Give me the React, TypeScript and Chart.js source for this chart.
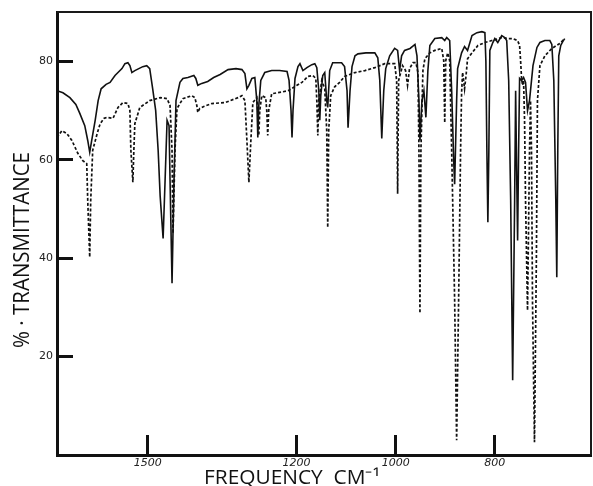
import React, { useEffect, useRef } from "react";
import { Chart, registerables } from "chart.js";

Chart.register(...registerables);

// Solid trace: frequency (cm-1) and % transmittance
const solidFreq = [
  1683, 1671, 1657, 1645, 1637, 1627, 1621, 1617, 1613, 1606, 1600, 1594, 1584, 1576, 1566, 1560,
  1552, 1546, 1540, 1536, 1532, 1526, 1518, 1510, 1502, 1496, 1490, 1484, 1479, 1475, 1469, 1465,
  1461, 1457, 1455, 1451, 1447, 1443, 1435, 1429, 1419, 1407, 1403, 1399, 1391, 1379, 1367, 1354,
  1338, 1322, 1310, 1304, 1300, 1296, 1290, 1284, 1280, 1278, 1276, 1272, 1264, 1250, 1234, 1219,
  1215, 1211, 1209, 1207, 1203, 1197, 1193, 1187, 1179, 1169, 1163, 1159, 1155, 1153, 1151, 1147,
  1143, 1139, 1137, 1133, 1127, 1109, 1103, 1098, 1096, 1092, 1088, 1082, 1076, 1060, 1042, 1036,
  1032, 1028, 1024, 1020, 1012, 1002, 996, 992, 988, 982, 971, 961, 957, 953, 951, 947,
  943, 939, 935, 931, 921, 907, 901, 897, 891, 887, 883, 881, 877, 875, 867, 861,
  855, 846, 836, 826, 820, 818, 816, 814, 812, 810, 804, 800, 794, 786, 780, 776,
  772, 768, 764, 760, 758, 756, 754, 752, 750, 746, 742, 738, 734, 730, 723, 715,
  709, 699, 689, 685, 681, 677, 675, 673, 671, 667, 663, 659,
];
const solidT = [
  74.0, 73.6, 72.6, 71.2, 69.4, 66.9, 63.9, 61.5, 63.9, 68.0, 72.0, 74.4, 75.3, 75.7, 77.1, 77.7,
  78.5, 79.5, 79.7, 79.1, 77.7, 78.1, 78.5, 78.9, 79.1, 78.5, 74.4, 70.0, 61.9, 52.7, 44.0, 55.8,
  68.0, 66.9, 55.8, 34.9, 55.8, 72.0, 75.7, 76.5, 76.7, 77.1, 76.5, 75.1, 75.5, 75.9, 76.7, 77.3,
  78.3, 78.5, 78.3, 77.5, 74.4, 75.1, 76.5, 76.7, 72.0, 64.5, 71.0, 76.1, 77.7, 78.1, 78.1, 77.9,
  76.1, 70.0, 64.5, 70.0, 76.5, 78.9, 79.5, 78.1, 78.7, 79.3, 79.5, 78.7, 74.0, 68.0, 73.0, 77.1,
  77.7, 72.0, 70.6, 78.1, 79.7, 79.7, 78.9, 74.0, 66.5, 74.0, 78.9, 81.1, 81.5, 81.7, 81.7, 80.7,
  76.1, 64.3, 74.0, 78.5, 81.1, 82.6, 82.2, 78.1, 81.1, 82.2, 82.6, 83.4, 81.1, 72.0, 63.9, 72.0,
  74.0, 68.6, 78.1, 83.2, 84.6, 84.8, 84.2, 84.8, 84.2, 74.0, 60.0, 55.0, 72.0, 78.5, 81.7, 83.0,
  82.2, 85.2, 85.8, 86.0, 85.8, 80.0, 61.9, 47.3, 61.9, 82.2, 83.8, 84.6, 83.8, 85.2, 84.8, 84.2,
  76.1, 51.7, 15.2, 51.7, 74.0, 57.8, 43.6, 61.9, 76.5, 76.1, 76.7, 75.7, 70.0, 72.0, 79.1, 82.8,
  83.8, 84.2, 84.2, 83.4, 76.1, 51.7, 36.1, 61.9, 81.1, 83.2, 84.0, 84.6,
];

// Dashed trace
const dashedFreq = [
  1683, 1673, 1663, 1653, 1641, 1631, 1623, 1621, 1617, 1615, 1611, 1602, 1596, 1588, 1582, 1570,
  1560, 1550, 1540, 1536, 1534, 1530, 1528, 1526, 1516, 1496, 1475, 1461, 1455, 1451, 1449, 1445,
  1441, 1429, 1411, 1405, 1401, 1399, 1395, 1387, 1371, 1344, 1318, 1310, 1304, 1300, 1296, 1292,
  1288, 1280, 1278, 1276, 1274, 1270, 1262, 1260, 1258, 1256, 1250, 1238, 1217, 1199, 1189, 1177,
  1167, 1161, 1159, 1157, 1155, 1149, 1143, 1139, 1137, 1135, 1131, 1123, 1113, 1103, 1082, 1062,
  1042, 1022, 1002, 998, 996, 994, 986, 980, 976, 972, 965, 959, 955, 953, 951, 949,
  945, 941, 931, 921, 907, 903, 901, 899, 895, 891, 887, 881, 877, 873, 869, 867,
  865, 863, 861, 858, 855, 846, 834, 820, 806, 786, 774, 764, 754, 750, 748, 746,
  744, 742, 740, 738, 734, 730, 728, 726, 724, 720, 716, 714, 709, 699, 685, 669,
  659,
];
const dashedT = [
  64.5, 65.9, 65.3, 63.9, 61.3, 59.8, 59.2, 51.7, 40.2, 51.7, 61.9, 65.3, 67.3, 68.4, 68.6, 68.4,
  70.6, 71.6, 71.4, 70.0, 61.9, 55.4, 61.9, 67.3, 70.6, 72.0, 72.6, 72.4, 71.0, 61.9, 45.0, 61.9,
  70.4, 72.4, 73.0, 72.6, 71.0, 69.6, 70.4, 70.8, 71.4, 71.6, 72.6, 73.0, 72.0, 63.9, 55.4, 63.9,
  71.6, 72.6, 70.0, 64.9, 70.0, 73.0, 72.6, 70.0, 64.9, 70.0, 73.4, 73.6, 74.0, 75.1, 75.7, 76.9,
  77.1, 76.5, 72.0, 64.9, 72.0, 76.1, 74.4, 65.9, 46.2, 65.9, 73.0, 74.8, 75.7, 76.9, 77.7, 78.1,
  78.7, 79.5, 79.5, 76.1, 53.1, 76.1, 79.1, 78.1, 75.1, 78.5, 79.7, 79.7, 77.7, 61.9, 28.8, 61.9,
  78.1, 80.5, 81.7, 82.2, 82.6, 80.1, 67.5, 80.1, 81.7, 80.1, 61.9, 31.4, 3.0, 31.4, 61.9, 73.6,
  77.7, 76.1, 74.4, 77.1, 80.5, 81.7, 83.2, 83.8, 84.2, 84.8, 84.6, 84.6, 84.2, 83.2, 80.1, 76.5,
  75.1, 76.1, 68.0, 51.7, 29.4, 61.9, 72.0, 61.9, 31.4, 2.6, 41.6, 72.0, 79.1, 81.1, 82.6, 83.6,
  84.6,
];

const xTickValues = [1500, 1200, 1000, 800];
const yTickValues = [20, 40, 60, 80];
const yTitle = "% · TRANSMITTANCE";
const xTitle = "FREQUENCY  CM⁻¹";

const toPoints = (xs: number[], ys: number[]) => xs.map((x, i) => ({ x, y: ys[i] }));

const titlesPlugin = {
  id: "handTitles",
  afterDraw(chart: any) {
    const ctx = chart.ctx as CanvasRenderingContext2D;
    ctx.save();
    ctx.fillStyle = "#111";
    ctx.textAlign = "center";
    ctx.textBaseline = "middle";
    // y title
    ctx.save();
    ctx.font = "400 22px 'Open Sans'";
    const wy = ctx.measureText(yTitle).width;
    ctx.translate(23, 250);
    ctx.rotate(-Math.PI / 2);
    ctx.scale(196 / wy, 1);
    ctx.fillText(yTitle, 0, 0);
    ctx.restore();
    // x title
    ctx.save();
    ctx.font = "400 20px 'Open Sans'";
    const wx = ctx.measureText(xTitle).width;
    ctx.translate(292, 478);
    ctx.scale(176 / wx, 1);
    ctx.fillText(xTitle, 0, 0);
    ctx.restore();
    ctx.restore();
  },
};

const framePlugin = {
  id: "frame",
  afterDatasetsDraw(chart: any) {
    const { ctx, chartArea } = chart;
    ctx.save();
    ctx.strokeStyle = "#1a1a1a";
    ctx.lineWidth = 2;
    ctx.beginPath();
    ctx.moveTo(chartArea.left, chartArea.top);
    ctx.lineTo(chartArea.right, chartArea.top);
    ctx.lineTo(chartArea.right, chartArea.bottom);
    ctx.stroke();
    ctx.restore();
  },
};

export default function App() {
  const ref = useRef<HTMLCanvasElement | null>(null);
  useEffect(() => {
    if (!ref.current) return;
    const chart = new Chart(ref.current, {
      type: "line",
      data: {
        datasets: [
          {
            label: "solid",
            data: toPoints(solidFreq, solidT),
            borderColor: "#111",
            borderWidth: 1.6,
            pointRadius: 0,
            tension: 0,
            fill: false,
          },
          {
            label: "dashed",
            data: toPoints(dashedFreq, dashedT),
            borderColor: "#111",
            borderWidth: 1.7,
            borderDash: [3, 2],
            pointRadius: 0,
            tension: 0,
            fill: false,
          },
        ],
      },
      options: {
        animation: false,
        responsive: true,
        maintainAspectRatio: false,
        layout: { padding: { left: 0, right: 2, top: 12, bottom: 0 } },
        plugins: {
          legend: { display: false },
          tooltip: { enabled: false },
        },
        scales: {
          x: {
            type: "linear",
            reverse: true,
            min: 606,
            max: 1683,
            afterBuildTicks: (s: any) => {
              s.ticks = xTickValues.map((v) => ({ value: v }));
            },
            afterFit: (s: any) => {
              s.height = 31;
              s.paddingLeft = 0;
              s.paddingRight = 0;
            },
            grid: {
              drawOnChartArea: false,
              drawTicks: true,
              tickLength: -20,
              tickWidth: 3,
              tickColor: "#111",
            },
            border: { display: true, color: "#111", width: 3 },
            ticks: {
              autoSkip: false,
              maxRotation: 0,
              padding: 22,
              color: "#222",
              font: { family: "'DejaVu Sans'", size: 11, style: "italic" },
              callback: (v: any) => String(v),
            },
          },
          y: {
            type: "linear",
            min: 0,
            max: 90,
            afterBuildTicks: (s: any) => {
              s.ticks = yTickValues.map((v) => ({ value: v }));
            },
            afterFit: (s: any) => {
              s.width = 57;
              s.paddingTop = 0;
              s.paddingBottom = 0;
            },
            grid: {
              drawOnChartArea: false,
              drawTicks: true,
              tickLength: -16,
              tickWidth: 3,
              tickColor: "#111",
            },
            border: { display: true, color: "#111", width: 3 },
            ticks: {
              padding: 20,
              color: "#222",
              font: { family: "'DejaVu Sans'", size: 11 },
              callback: (v: any) => String(v),
            },
          },
        },
      },
      plugins: [framePlugin, titlesPlugin],
    });
    return () => chart.destroy();
  }, []);
  return (
    <div style={{ position: "fixed", left: 0, top: 0, width: 593, height: 486, background: "#fff" }}>
      <canvas ref={ref} />
    </div>
  );
}
